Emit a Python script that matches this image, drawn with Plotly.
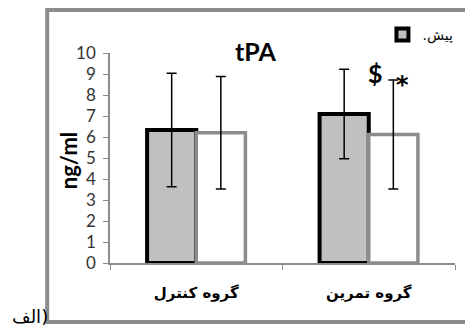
import plotly.graph_objects as go

categories = ["گروه کنترل", "گروه تمرین"]
pre_values = [6.33, 7.1]
pre_errors = [2.7, 2.13]
post_values = [6.2, 6.12]
post_errors = [2.68, 2.6]
y_ticks = [0, 1, 2, 3, 4, 5, 6, 7, 8, 9, 10]

fig = go.Figure()
fig.add_trace(go.Bar(
    x=categories, y=pre_values, name=".پیش",
    marker=dict(color="#c0c0c0", line=dict(color="black", width=4)),
    error_y=dict(type="data", array=pre_errors, color="black", thickness=1.5, width=5),
))
fig.add_trace(go.Bar(
    x=categories, y=post_values, name="پس", showlegend=False,
    marker=dict(color="white", line=dict(color="#8c8c8c", width=3.5)),
    error_y=dict(type="data", array=post_errors, color="black", thickness=1.5, width=5),
))

fig.update_layout(
    width=465, height=330,
    margin=dict(l=110, r=10, t=53, b=67, autoexpand=False),
    paper_bgcolor="white", plot_bgcolor="white",
    barmode="group", bargap=0.43, bargroupgap=0,
    showlegend=True,
    legend=dict(x=1.01, xanchor="right", y=1.086, yanchor="middle",
                font=dict(family="DejaVu Sans", size=14, color="black"),
                bgcolor="rgba(0,0,0,0)", itemwidth=30),
    xaxis=dict(
        showline=True, linecolor="#8c8c8c", linewidth=1.5,
        ticks="outside", tickson="boundaries", ticklen=5, tickcolor="#8c8c8c",
        tickfont=dict(family="DejaVu Sans", size=15, color="black", weight="bold"),
        ticklabelstandoff=15,
        showgrid=False, zeroline=False,
    ),
    yaxis=dict(
        range=[0, 10], tickvals=y_ticks,
        showline=True, linecolor="#8c8c8c", linewidth=1.5,
        ticks="outside", ticklen=5, tickcolor="#8c8c8c",
        tickfont=dict(family="Lato", size=17, color="#333"),
        ticklabelstandoff=4,
        showgrid=False, zeroline=False,
    ),
    annotations=[
        dict(text="<b>tPA</b>", x=0.423, y=1.0095, xref="paper", yref="paper",
             xanchor="center", yanchor="middle",
             showarrow=False, font=dict(family="Lato", size=25, color="black")),
        dict(text="<b>ng/ml</b>", x=-0.1215, y=0.49, xref="paper", yref="paper",
             xanchor="center", yanchor="middle",
             showarrow=False, textangle=-90, font=dict(family="Lato", size=22, color="black")),
        dict(text="<b>$</b>", x=0.771, y=0.905, xref="paper", yref="paper",
             xanchor="center", yanchor="middle",
             showarrow=False, font=dict(family="Lato", size=25, color="black")),
        dict(text="<b>*</b>", x=0.849, y=0.85, xref="paper", yref="paper",
             xanchor="center", yanchor="middle",
             showarrow=False, font=dict(family="DejaVu Sans", size=24, color="black")),
        dict(text="الف)", x=-0.232, y=-0.255, xref="paper", yref="paper",
             xanchor="center", yanchor="middle",
             showarrow=False, font=dict(family="DejaVu Sans", size=18, color="black")),
    ],
    shapes=[
        dict(type="rect", xref="paper", yref="paper",
             x0=-0.182, x1=1.06, y0=-0.281, y1=1.205,
             line=dict(color="#8c8c8c", width=4), fillcolor="rgba(0,0,0,0)"),
    ],
)

fig.write_html("out.html", config={"displayModeBar": False},
               post_script="document.body.style.margin='0';document.body.style.overflow='hidden';")
